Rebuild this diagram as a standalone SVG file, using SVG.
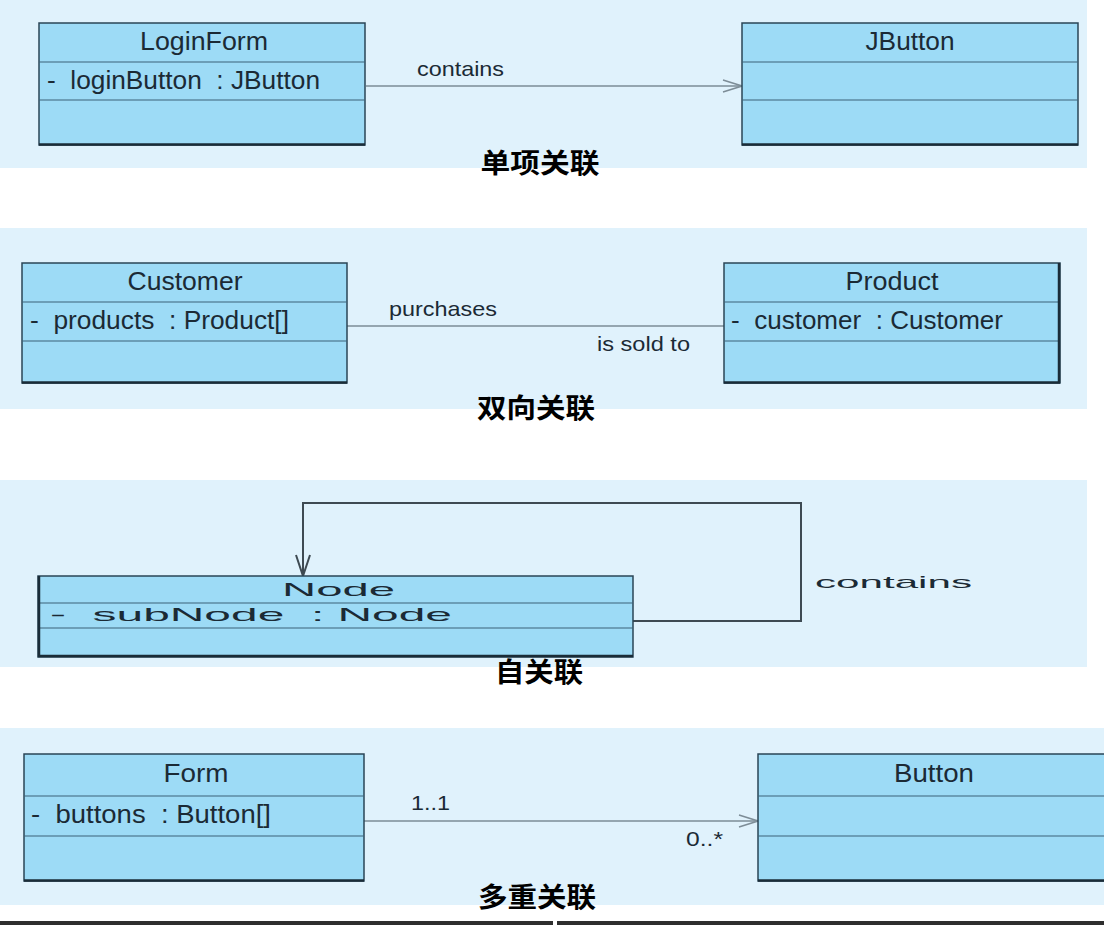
<svg xmlns="http://www.w3.org/2000/svg" width="1104" height="925" viewBox="0 0 1104 925">
<defs>
<style>
.panel{fill:#e0f2fc}
.box{fill:#9ddbf6;stroke:#2a4556;stroke-width:1.5}
.div{stroke:#3d6378;stroke-width:1.2}
.shadow{stroke:#1a2c38;stroke-width:2.5}
.t{font-family:"Liberation Sans",Arial,sans-serif;fill:#1b2a35}
.title{font-size:25px;text-anchor:middle}
.attr{font-size:25px;white-space:pre}
.lbl{font-size:21px}
.cap{font-family:"Noto Sans CJK SC",sans-serif;font-weight:bold;font-size:27px;fill:#000;text-anchor:middle}
.conn{fill:none;stroke:#7d8d97;stroke-width:1.5}
.loop{fill:none;stroke:#3e4a52;stroke-width:2}
</style>
<marker id="open" markerWidth="22" markerHeight="14" refX="20" refY="7" orient="auto" markerUnits="userSpaceOnUse">
<path d="M1,1 L20,7 L1,13" fill="none" stroke="#7d8d97" stroke-width="1.5"/>
</marker>
<marker id="openDark" markerWidth="24" markerHeight="16" refX="22" refY="8" orient="auto" markerUnits="userSpaceOnUse">
<path d="M1,1 L22,8 L1,15" fill="none" stroke="#3e4a52" stroke-width="2"/>
</marker>
</defs>
<rect width="1104" height="925" fill="#ffffff"/>
<rect class="panel" x="0" y="0" width="1087" height="168"/>
<rect class="panel" x="0" y="228" width="1087" height="181"/>
<rect class="panel" x="0" y="480" width="1087" height="187"/>
<rect class="panel" x="0" y="728" width="1104" height="177"/>
<rect x="0" y="921" width="1104" height="4" fill="#2e2e2e"/>
<rect x="553" y="921" width="4" height="4" fill="#ffffff"/>

<g id="connectors">
<line class="conn" x1="366" y1="86" x2="742" y2="86" marker-end="url(#open)"/>
<line class="conn" x1="347" y1="326" x2="724" y2="326"/>
<polyline class="loop" points="633,621 801,621 801,503 303,503 303,576" marker-end="url(#openDark)"/>
<line class="conn" x1="364" y1="821" x2="758" y2="821" marker-end="url(#open)"/>
<text class="t lbl" x="417" y="76" textLength="87" lengthAdjust="spacingAndGlyphs">contains</text>
<text class="t lbl" x="389" y="316" textLength="108" lengthAdjust="spacingAndGlyphs">purchases</text>
<text class="t lbl" x="597" y="351" textLength="93" lengthAdjust="spacingAndGlyphs">is sold to</text>
<text class="t" x="815" y="588" style="font-size:17px" textLength="157" lengthAdjust="spacingAndGlyphs">contains</text>
<text class="t lbl" x="411" y="810" textLength="39" lengthAdjust="spacingAndGlyphs">1..1</text>
<text class="t lbl" x="686" y="846" textLength="37" lengthAdjust="spacingAndGlyphs">0..*</text>
</g>

<g id="LoginForm">
<rect class="box" x="39" y="23" width="326" height="122"/>
<line class="div" x1="39" y1="62" x2="365" y2="62"/>
<line class="div" x1="39" y1="100" x2="365" y2="100"/>
<line class="shadow" x1="39" y1="144.5" x2="365" y2="144.5"/>
<text class="t title" x="204" y="50" textLength="128" lengthAdjust="spacingAndGlyphs">LoginForm</text>
<text class="t attr" x="47" y="89" textLength="273" lengthAdjust="spacingAndGlyphs">-  loginButton  : JButton</text>
</g>

<g id="JButton">
<rect class="box" x="742" y="23" width="336" height="122"/>
<line class="div" x1="742" y1="62" x2="1078" y2="62"/>
<line class="div" x1="742" y1="100" x2="1078" y2="100"/>
<line class="shadow" x1="742" y1="144.5" x2="1078" y2="144.5"/>
<text class="t title" x="910" y="50" textLength="89" lengthAdjust="spacingAndGlyphs">JButton</text>
</g>

<g id="Customer">
<rect class="box" x="22" y="263" width="325" height="120"/>
<line class="div" x1="22" y1="302" x2="347" y2="302"/>
<line class="div" x1="22" y1="341" x2="347" y2="341"/>
<line class="shadow" x1="22" y1="382.5" x2="347" y2="382.5"/>
<text class="t title" x="185" y="290" textLength="115" lengthAdjust="spacingAndGlyphs">Customer</text>
<text class="t attr" x="30" y="329" textLength="259" lengthAdjust="spacingAndGlyphs">-  products  : Product[]</text>
</g>

<g id="Product">
<rect class="box" x="724" y="263" width="336" height="120"/>
<line class="div" x1="724" y1="302" x2="1060" y2="302"/>
<line class="div" x1="724" y1="341" x2="1060" y2="341"/>
<line class="shadow" x1="724" y1="382.5" x2="1060" y2="382.5"/>
<line class="shadow" x1="1059" y1="263" x2="1059" y2="383"/>
<text class="t title" x="892" y="290" textLength="93" lengthAdjust="spacingAndGlyphs">Product</text>
<text class="t attr" x="731" y="329" textLength="272" lengthAdjust="spacingAndGlyphs">-  customer  : Customer</text>
</g>

<g id="Node">
<rect class="box" x="38" y="576" width="595" height="81"/>
<line class="div" x1="38" y1="603" x2="633" y2="603"/>
<line class="div" x1="38" y1="628" x2="633" y2="628"/>
<line class="shadow" x1="38" y1="656" x2="633" y2="656"/>
<line class="shadow" x1="39" y1="576" x2="39" y2="657"/>
<text class="t" x="282" y="596" style="font-size:19px" textLength="113" lengthAdjust="spacingAndGlyphs">Node</text>
<text class="t attr" x="50" y="621" style="font-size:19px" textLength="402" lengthAdjust="spacingAndGlyphs">-  subNode  : Node</text>
</g>

<g id="Form">
<rect class="box" x="24" y="754" width="340" height="127"/>
<line class="div" x1="24" y1="796" x2="364" y2="796"/>
<line class="div" x1="24" y1="836" x2="364" y2="836"/>
<line class="shadow" x1="24" y1="880.5" x2="364" y2="880.5"/>
<text class="t title" x="196" y="782" textLength="65" lengthAdjust="spacingAndGlyphs">Form</text>
<text class="t attr" x="31" y="823" textLength="240" lengthAdjust="spacingAndGlyphs">-  buttons  : Button[]</text>
</g>

<g id="Button">
<rect class="box" x="758" y="754" width="360" height="127"/>
<line class="div" x1="758" y1="796" x2="1104" y2="796"/>
<line class="div" x1="758" y1="836" x2="1104" y2="836"/>
<line class="shadow" x1="758" y1="880.5" x2="1104" y2="880.5"/>
<text class="t title" x="934" y="782" textLength="80" lengthAdjust="spacingAndGlyphs">Button</text>
</g>

<g id="captions">
<text class="cap" x="540" y="173" textLength="119" lengthAdjust="spacingAndGlyphs">单项关联</text>
<text class="cap" x="536" y="418" textLength="118" lengthAdjust="spacingAndGlyphs">双向关联</text>
<text class="cap" x="539" y="682" textLength="88" lengthAdjust="spacingAndGlyphs">自关联</text>
<text class="cap" x="537" y="907" textLength="118" lengthAdjust="spacingAndGlyphs">多重关联</text>
</g>
</svg>
